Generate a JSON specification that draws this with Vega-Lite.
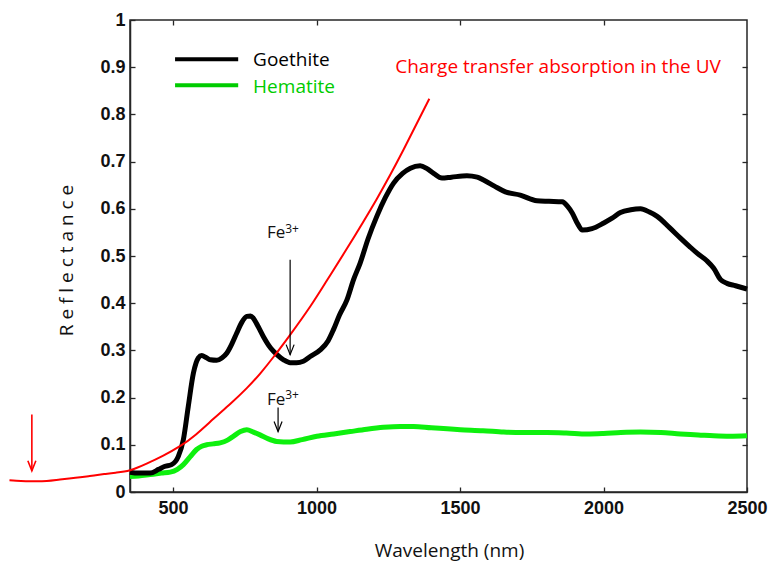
{
  "$schema": "https://vega.github.io/schema/vega-lite/v6.json",
  "width": 617,
  "height": 472,
  "autosize": {"type": "none"},
  "padding": {"left": 130, "top": 20, "right": 22, "bottom": 71},
  "background": "white",
  "config": {
    "view": {"stroke": "#262626", "strokeWidth": 1.5},
    "font": "Open Sans",
    "axis": {
      "grid": false,
      "domainColor": "#262626",
      "domainWidth": 1.5,
      "tickColor": "#262626",
      "tickWidth": 1.3,
      "tickSize": -5,
      "labelFont": "Liberation Sans",
      "labelFontWeight": "bold",
      "labelFontSize": 18,
      "labelColor": "#111111",
      "labelFlush": false,
      "labelOverlap": false,
      "titleFont": "Open Sans",
      "titleFontWeight": "normal",
      "titleFontSize": 19,
      "titleColor": "#111111"
    }
  },
  "datasets": {
    "goethite": [
      {"wavelength": 350, "reflectance": 0.042}, {"wavelength": 380, "reflectance": 0.040},
      {"wavelength": 420, "reflectance": 0.040}, {"wavelength": 450, "reflectance": 0.048},
      {"wavelength": 470, "reflectance": 0.054}, {"wavelength": 495, "reflectance": 0.058},
      {"wavelength": 518, "reflectance": 0.075}, {"wavelength": 536, "reflectance": 0.111},
      {"wavelength": 553, "reflectance": 0.181}, {"wavelength": 571, "reflectance": 0.252},
      {"wavelength": 588, "reflectance": 0.284}, {"wavelength": 600, "reflectance": 0.289},
      {"wavelength": 615, "reflectance": 0.285}, {"wavelength": 630, "reflectance": 0.280},
      {"wavelength": 652, "reflectance": 0.279}, {"wavelength": 670, "reflectance": 0.284},
      {"wavelength": 687, "reflectance": 0.294}, {"wavelength": 705, "reflectance": 0.314},
      {"wavelength": 722, "reflectance": 0.337}, {"wavelength": 740, "reflectance": 0.360},
      {"wavelength": 757, "reflectance": 0.372}, {"wavelength": 770, "reflectance": 0.373},
      {"wavelength": 780, "reflectance": 0.368}, {"wavelength": 797, "reflectance": 0.350},
      {"wavelength": 815, "reflectance": 0.329}, {"wavelength": 840, "reflectance": 0.305},
      {"wavelength": 862, "reflectance": 0.291}, {"wavelength": 885, "reflectance": 0.280},
      {"wavelength": 908, "reflectance": 0.274}, {"wavelength": 930, "reflectance": 0.274},
      {"wavelength": 954, "reflectance": 0.277}, {"wavelength": 978, "reflectance": 0.287},
      {"wavelength": 1013, "reflectance": 0.301}, {"wavelength": 1040, "reflectance": 0.320},
      {"wavelength": 1059, "reflectance": 0.344}, {"wavelength": 1080, "reflectance": 0.375},
      {"wavelength": 1106, "reflectance": 0.407}, {"wavelength": 1129, "reflectance": 0.450},
      {"wavelength": 1152, "reflectance": 0.485}, {"wavelength": 1180, "reflectance": 0.537},
      {"wavelength": 1210, "reflectance": 0.584}, {"wavelength": 1240, "reflectance": 0.624},
      {"wavelength": 1268, "reflectance": 0.654}, {"wavelength": 1300, "reflectance": 0.675},
      {"wavelength": 1327, "reflectance": 0.686}, {"wavelength": 1361, "reflectance": 0.691},
      {"wavelength": 1385, "reflectance": 0.685}, {"wavelength": 1408, "reflectance": 0.675},
      {"wavelength": 1437, "reflectance": 0.665}, {"wavelength": 1470, "reflectance": 0.667},
      {"wavelength": 1524, "reflectance": 0.670}, {"wavelength": 1560, "reflectance": 0.667},
      {"wavelength": 1582, "reflectance": 0.661}, {"wavelength": 1620, "reflectance": 0.648},
      {"wavelength": 1658, "reflectance": 0.636}, {"wavelength": 1710, "reflectance": 0.629},
      {"wavelength": 1768, "reflectance": 0.617}, {"wavelength": 1810, "reflectance": 0.616},
      {"wavelength": 1856, "reflectance": 0.615}, {"wavelength": 1875, "reflectance": 0.605},
      {"wavelength": 1891, "reflectance": 0.591}, {"wavelength": 1910, "reflectance": 0.568},
      {"wavelength": 1926, "reflectance": 0.555}, {"wavelength": 1960, "reflectance": 0.558},
      {"wavelength": 2001, "reflectance": 0.570}, {"wavelength": 2030, "reflectance": 0.580},
      {"wavelength": 2059, "reflectance": 0.592}, {"wavelength": 2095, "reflectance": 0.598},
      {"wavelength": 2129, "reflectance": 0.600}, {"wavelength": 2160, "reflectance": 0.593},
      {"wavelength": 2187, "reflectance": 0.584}, {"wavelength": 2230, "reflectance": 0.560},
      {"wavelength": 2268, "reflectance": 0.538}, {"wavelength": 2300, "reflectance": 0.520},
      {"wavelength": 2326, "reflectance": 0.506}, {"wavelength": 2360, "reflectance": 0.490},
      {"wavelength": 2384, "reflectance": 0.474}, {"wavelength": 2408, "reflectance": 0.450},
      {"wavelength": 2430, "reflectance": 0.442}, {"wavelength": 2460, "reflectance": 0.437},
      {"wavelength": 2500, "reflectance": 0.430}
    ],
    "hematite": [
      {"wavelength": 350, "reflectance": 0.033}, {"wavelength": 380, "reflectance": 0.034},
      {"wavelength": 420, "reflectance": 0.037}, {"wavelength": 460, "reflectance": 0.040},
      {"wavelength": 490, "reflectance": 0.042}, {"wavelength": 515, "reflectance": 0.048},
      {"wavelength": 536, "reflectance": 0.058}, {"wavelength": 560, "reflectance": 0.075},
      {"wavelength": 582, "reflectance": 0.090}, {"wavelength": 600, "reflectance": 0.097},
      {"wavelength": 617, "reflectance": 0.100}, {"wavelength": 640, "reflectance": 0.102},
      {"wavelength": 664, "reflectance": 0.104}, {"wavelength": 690, "reflectance": 0.110},
      {"wavelength": 710, "reflectance": 0.118}, {"wavelength": 735, "reflectance": 0.128},
      {"wavelength": 757, "reflectance": 0.132}, {"wavelength": 780, "reflectance": 0.127},
      {"wavelength": 803, "reflectance": 0.121}, {"wavelength": 830, "reflectance": 0.113},
      {"wavelength": 861, "reflectance": 0.107}, {"wavelength": 885, "reflectance": 0.106},
      {"wavelength": 908, "reflectance": 0.106}, {"wavelength": 950, "reflectance": 0.111},
      {"wavelength": 1001, "reflectance": 0.118}, {"wavelength": 1060, "reflectance": 0.123},
      {"wavelength": 1117, "reflectance": 0.128}, {"wavelength": 1175, "reflectance": 0.133},
      {"wavelength": 1233, "reflectance": 0.137}, {"wavelength": 1292, "reflectance": 0.139},
      {"wavelength": 1338, "reflectance": 0.139}, {"wavelength": 1400, "reflectance": 0.136},
      {"wavelength": 1501, "reflectance": 0.132}, {"wavelength": 1580, "reflectance": 0.130},
      {"wavelength": 1652, "reflectance": 0.127}, {"wavelength": 1720, "reflectance": 0.126},
      {"wavelength": 1803, "reflectance": 0.126}, {"wavelength": 1870, "reflectance": 0.125},
      {"wavelength": 1943, "reflectance": 0.123}, {"wavelength": 2000, "reflectance": 0.124},
      {"wavelength": 2060, "reflectance": 0.126}, {"wavelength": 2129, "reflectance": 0.127},
      {"wavelength": 2200, "reflectance": 0.126}, {"wavelength": 2268, "reflectance": 0.123},
      {"wavelength": 2330, "reflectance": 0.121}, {"wavelength": 2384, "reflectance": 0.119},
      {"wavelength": 2440, "reflectance": 0.118}, {"wavelength": 2500, "reflectance": 0.119}
    ],
    "uv_edge": [
      {"wavelength": -70, "reflectance": 0.025}, {"wavelength": -30, "reflectance": 0.0235},
      {"wavelength": 10, "reflectance": 0.023}, {"wavelength": 60, "reflectance": 0.0235},
      {"wavelength": 106, "reflectance": 0.0265}, {"wavelength": 160, "reflectance": 0.030},
      {"wavelength": 210, "reflectance": 0.034}, {"wavelength": 260, "reflectance": 0.038},
      {"wavelength": 300, "reflectance": 0.041}, {"wavelength": 350, "reflectance": 0.046},
      {"wavelength": 408, "reflectance": 0.060}, {"wavelength": 466, "reflectance": 0.077},
      {"wavelength": 524, "reflectance": 0.097}, {"wavelength": 580, "reflectance": 0.122},
      {"wavelength": 641, "reflectance": 0.155}, {"wavelength": 700, "reflectance": 0.187},
      {"wavelength": 757, "reflectance": 0.220}, {"wavelength": 805, "reflectance": 0.252},
      {"wavelength": 850, "reflectance": 0.286}, {"wavelength": 908, "reflectance": 0.333},
      {"wavelength": 978, "reflectance": 0.393}, {"wavelength": 1036, "reflectance": 0.448},
      {"wavelength": 1100, "reflectance": 0.510}, {"wavelength": 1210, "reflectance": 0.621},
      {"wavelength": 1303, "reflectance": 0.725}, {"wavelength": 1393, "reflectance": 0.833}
    ],
    "legend_keys": [
      {"start": 507, "end": 727, "reflectance": 0.917, "material": "Goethite"},
      {"start": 507, "end": 727, "reflectance": 0.862, "material": "Hematite"}
    ],
    "arrows": [
      {"wavelength": 908, "top": 0.492, "tip": 0.291, "kind": "band"},
      {"wavelength": 866, "top": 0.179, "tip": 0.128, "kind": "band"},
      {"wavelength": 8, "top": 0.164, "tip": 0.045, "kind": "uv"}
    ],
    "fe_labels": [
      {"wavelength": 891, "reflectance": 0.538, "sup": 0.548},
      {"wavelength": 891, "reflectance": 0.185, "sup": 0.198}
    ]
  },
  "layer": [
    {
      "data": {"name": "hematite"},
      "mark": {"type": "line", "color": "#0ef00e", "strokeWidth": 5, "interpolate": "monotone"},
      "encoding": {
        "x": {
          "field": "wavelength", "type": "quantitative",
          "scale": {"domain": [350, 2500], "nice": false, "zero": false},
          "axis": {"orient": "top", "values": [500, 1000, 1500, 2000], "labels": false, "domain": false, "title": null}
        },
        "y": {
          "field": "reflectance", "type": "quantitative",
          "scale": {"domain": [0, 1], "nice": false, "zero": false},
          "axis": {"orient": "right", "values": [0.1, 0.2, 0.3, 0.4, 0.5, 0.6, 0.7, 0.8, 0.9], "labels": false, "domain": false, "title": null}
        }
      }
    },
    {
      "data": {"name": "goethite"},
      "mark": {"type": "line", "color": "#000000", "strokeWidth": 5, "interpolate": "monotone"},
      "encoding": {
        "x": {
          "field": "wavelength", "type": "quantitative",
          "axis": {
            "orient": "bottom",
            "values": [500, 1000, 1500, 2000, 2500],
            "format": "d",
            "labelPadding": 12,
            "title": "Wavelength (nm)",
            "titleX": 319,
            "titleY": 64,
            "titleAlign": "center",
            "titleBaseline": "alphabetic"
          }
        },
        "y": {
          "field": "reflectance", "type": "quantitative",
          "axis": {
            "orient": "left",
            "values": [0, 0.1, 0.2, 0.3, 0.4, 0.5, 0.6, 0.7, 0.8, 0.9, 1],
            "labelExpr": "datum.value == 0 ? '0' : datum.value == 1 ? '1' : format(datum.value, '.1f')",
            "labelPadding": 10,
            "title": "R e f l e c t a n c e",
            "titleAngle": -90,
            "titleX": -64,
            "titleY": 240,
            "titleAlign": "center",
            "titleBaseline": "middle"
          }
        }
      }
    },
    {
      "data": {"name": "uv_edge"},
      "mark": {"type": "line", "color": "#ff0000", "strokeWidth": 2, "interpolate": "natural", "clip": false},
      "encoding": {
        "x": {"field": "wavelength", "type": "quantitative", "axis": null},
        "y": {"field": "reflectance", "type": "quantitative", "axis": null}
      }
    },
    {
      "data": {"name": "arrows"},
      "mark": {"type": "rule", "clip": false},
      "encoding": {
        "x": {"field": "wavelength", "type": "quantitative", "axis": null},
        "y": {"field": "top", "type": "quantitative", "axis": null},
        "y2": {"field": "tip"},
        "color": {"field": "kind", "type": "nominal", "scale": {"domain": ["band", "uv"], "range": ["#000000", "#ff0000"]}, "legend": null},
        "strokeWidth": {"field": "kind", "type": "nominal", "scale": {"domain": ["band", "uv"], "range": [1.2, 1.6]}, "legend": null}
      }
    },
    {
      "data": {"name": "arrows"},
      "mark": {"type": "point", "shape": "M-0.4,-1L0,0L0.4,-1", "filled": false, "size": 400, "clip": false},
      "encoding": {
        "x": {"field": "wavelength", "type": "quantitative", "axis": null},
        "y": {"field": "tip", "type": "quantitative", "axis": null},
        "color": {"field": "kind", "type": "nominal", "scale": {"domain": ["band", "uv"], "range": ["#000000", "#ff0000"]}, "legend": null},
        "strokeWidth": {"field": "kind", "type": "nominal", "scale": {"domain": ["band", "uv"], "range": [1.2, 1.6]}, "legend": null},
        "opacity": {"value": 1}
      }
    },
    {
      "data": {"name": "fe_labels"},
      "mark": {"type": "text", "text": "Fe", "align": "right", "baseline": "alphabetic", "fontSize": 17, "font": "Open Sans", "color": "#111111"},
      "encoding": {
        "x": {"field": "wavelength", "type": "quantitative", "axis": null},
        "y": {"field": "reflectance", "type": "quantitative", "axis": null}
      }
    },
    {
      "data": {"name": "fe_labels"},
      "mark": {"type": "text", "text": "3+", "align": "left", "baseline": "alphabetic", "fontSize": 12, "font": "Open Sans", "color": "#111111"},
      "encoding": {
        "x": {"field": "wavelength", "type": "quantitative", "axis": null},
        "y": {"field": "sup", "type": "quantitative", "axis": null}
      }
    },
    {
      "data": {"values": [{"wavelength": 1274, "reflectance": 0.888, "note": "Charge transfer absorption in the UV"}]},
      "mark": {"type": "text", "align": "left", "baseline": "alphabetic", "fontSize": 19, "font": "Open Sans", "color": "#ff0000"},
      "encoding": {
        "x": {"field": "wavelength", "type": "quantitative", "axis": null},
        "y": {"field": "reflectance", "type": "quantitative", "axis": null},
        "text": {"field": "note"}
      }
    },
    {
      "data": {"name": "legend_keys"},
      "mark": {"type": "rule", "strokeWidth": 4},
      "encoding": {
        "x": {"field": "start", "type": "quantitative", "axis": null},
        "x2": {"field": "end"},
        "y": {"field": "reflectance", "type": "quantitative", "axis": null},
        "color": {"field": "material", "type": "nominal", "scale": {"domain": ["Goethite", "Hematite"], "range": ["#000000", "#00cc00"]}, "legend": null}
      }
    },
    {
      "data": {"values": [
        {"wavelength": 779, "reflectance": 0.902, "material": "Goethite"},
        {"wavelength": 779, "reflectance": 0.845, "material": "Hematite"}
      ]},
      "mark": {"type": "text", "align": "left", "baseline": "alphabetic", "fontSize": 19, "font": "Open Sans"},
      "encoding": {
        "x": {"field": "wavelength", "type": "quantitative", "axis": null},
        "y": {"field": "reflectance", "type": "quantitative", "axis": null},
        "text": {"field": "material"},
        "color": {"field": "material", "type": "nominal", "scale": {"domain": ["Goethite", "Hematite"], "range": ["#000000", "#00cc00"]}, "legend": null}
      }
    }
  ],
  "resolve": {
    "axis": {"x": "independent", "y": "independent"},
    "scale": {"color": "independent", "strokeWidth": "independent"}
  }
}
